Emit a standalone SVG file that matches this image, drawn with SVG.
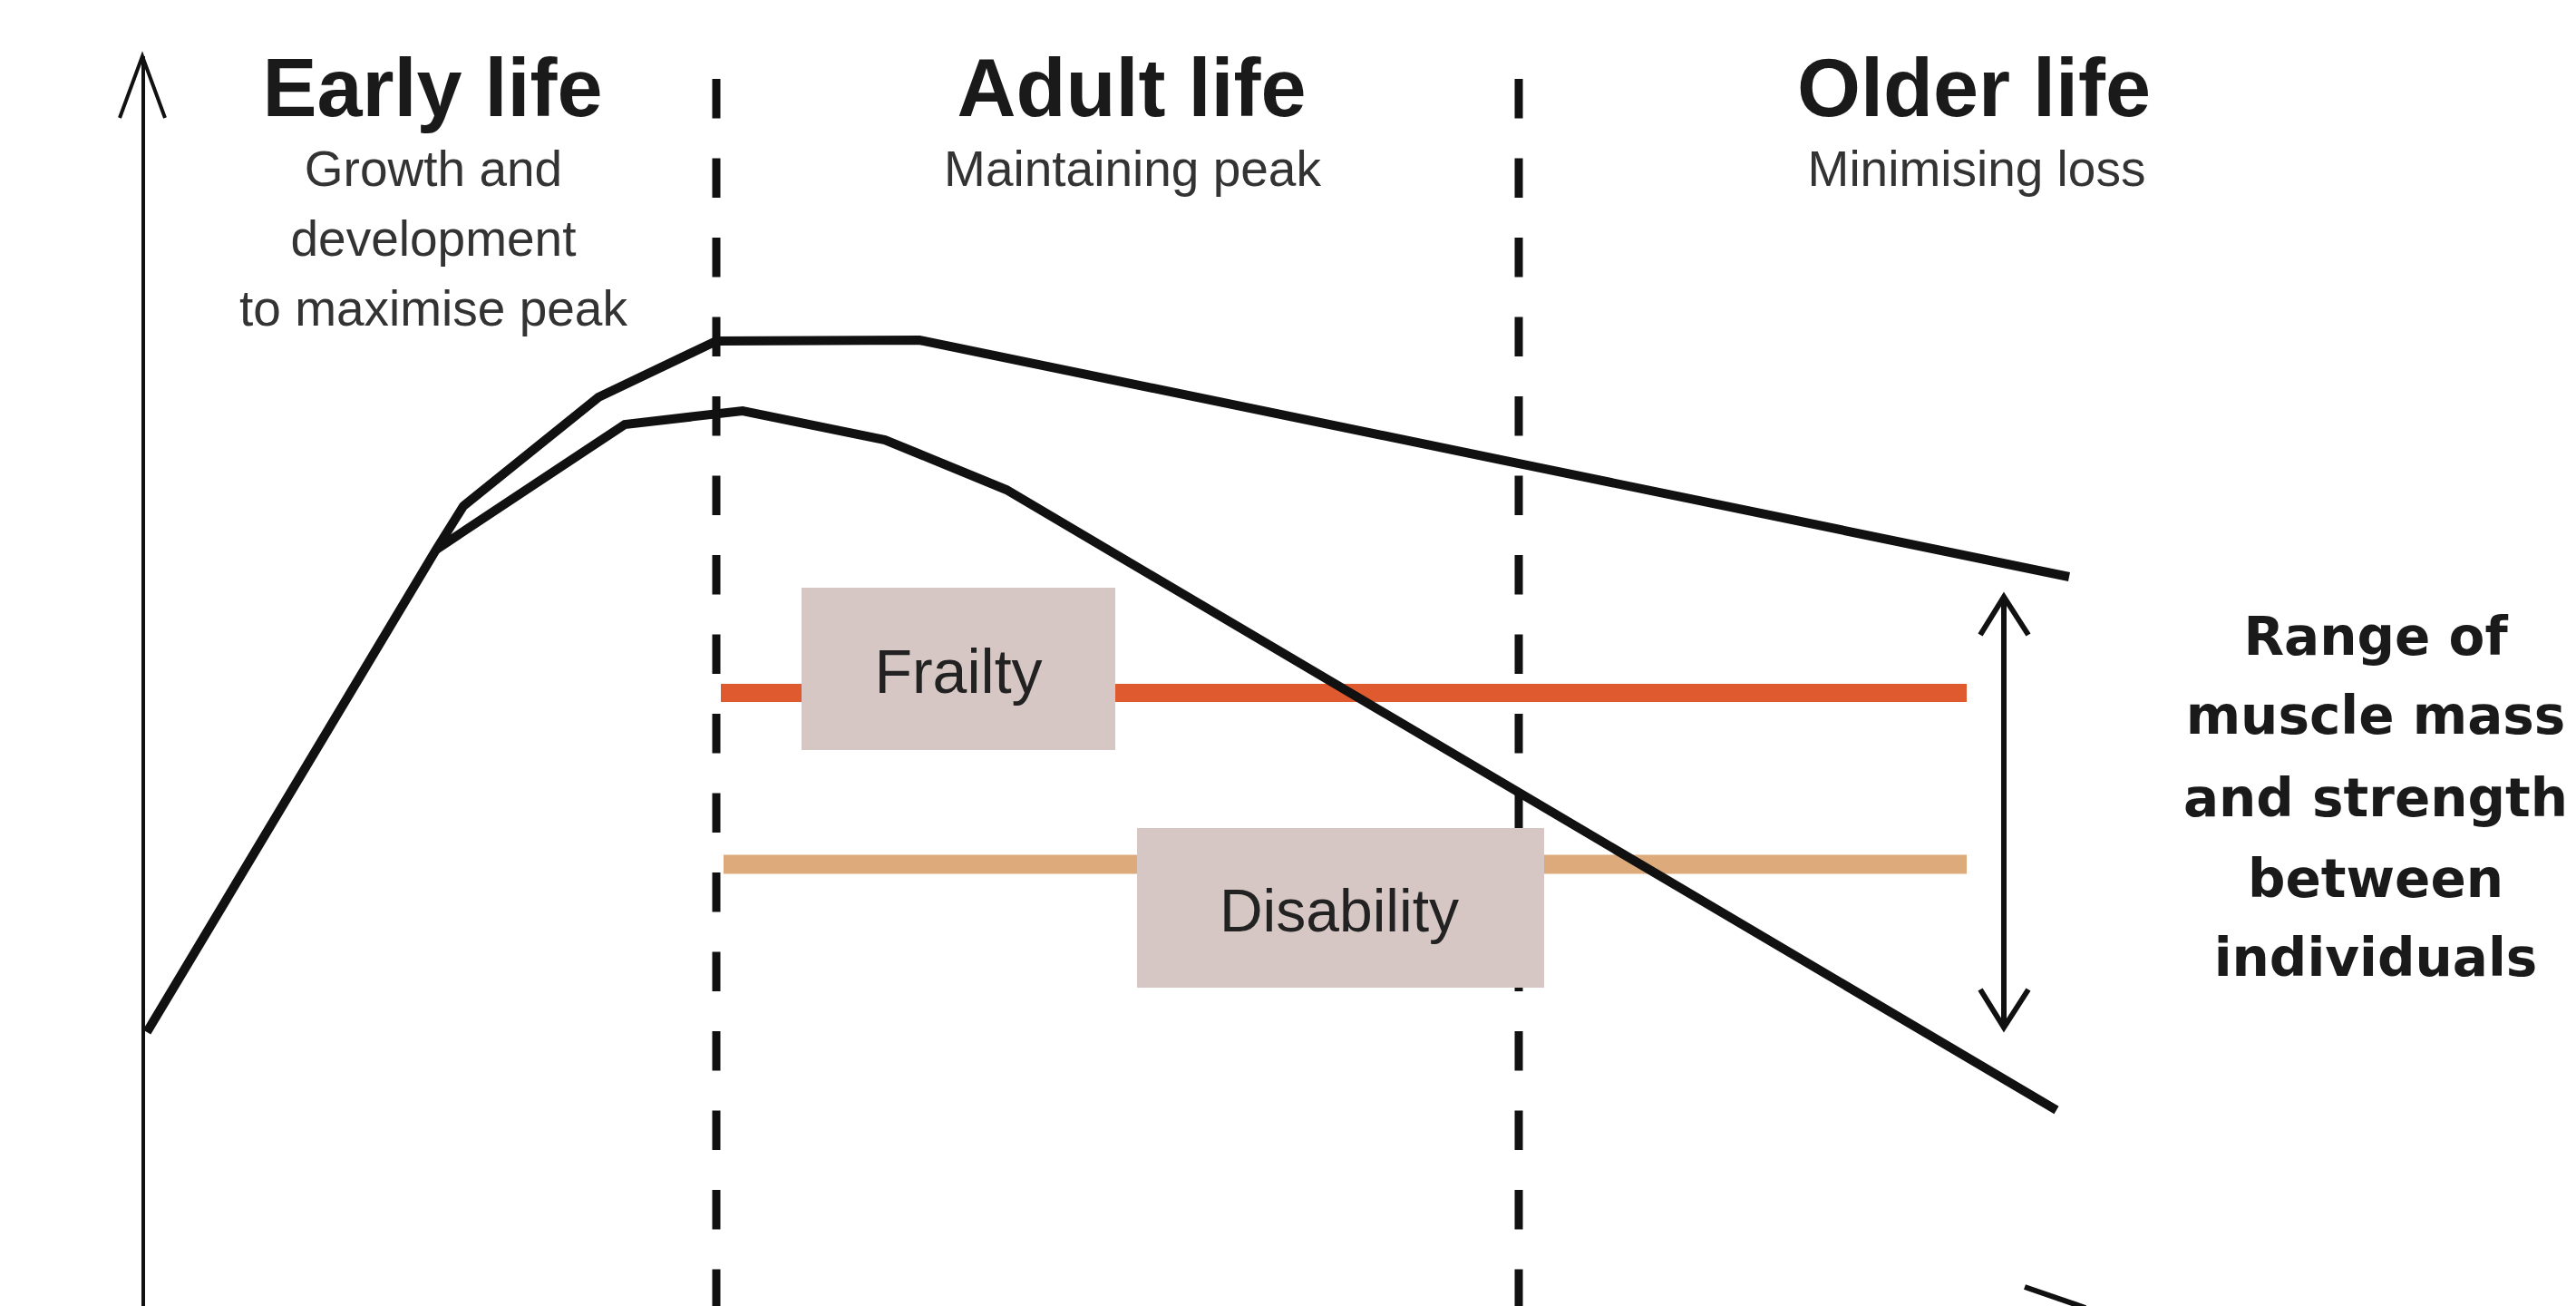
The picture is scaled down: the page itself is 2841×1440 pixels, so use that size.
<svg xmlns="http://www.w3.org/2000/svg" width="2841" height="1440" viewBox="0 0 2841 1440">
<style>
.title{font-family:"Liberation Sans",Arial,sans-serif;font-weight:bold;font-size:90px;fill:#1a1a1a;text-anchor:middle}
.sub{font-family:"Liberation Sans",Arial,sans-serif;font-size:55px;fill:#333;text-anchor:middle}
.lbl{font-family:"Liberation Sans",Arial,sans-serif;font-size:68px;fill:#222;text-anchor:middle}
.range{font-family:"DejaVu Sans",sans-serif;font-weight:bold;font-size:58px;fill:#1a1a1a;text-anchor:middle}
.dash{stroke:#111;stroke-width:9;stroke-dasharray:43.5 44;fill:none}
.curve{stroke:#111;stroke-width:10;fill:none;stroke-linejoin:miter}
.box{fill:#D6C7C4}
</style>
<rect width="2841" height="1440" fill="#fff"/>
<g id="axis">
<line x1="158" y1="62" x2="158" y2="1440" stroke="#111" stroke-width="4"/>
<polyline points="132,130 157,62 182,130" fill="none" stroke="#111" stroke-width="4"/>
</g>
<g id="dividers">
<line class="dash" x1="790" y1="87" x2="790" y2="1440"/>
<line class="dash" x1="1675" y1="87" x2="1675" y2="1440"/>
</g>
<g id="early-life">
<text class="title" x="477" y="128">Early life</text>
<text class="sub" x="478" y="205">Growth and</text>
<text class="sub" x="478" y="282">development</text>
<text class="sub" x="478" y="359">to maximise peak</text>
</g>
<g id="adult-life">
<text class="title" x="1248" y="128">Adult life</text>
<text class="sub" x="1249" y="205">Maintaining peak</text>
</g>
<g id="older-life">
<text class="title" x="2177" y="128">Older life</text>
<text class="sub" x="2180" y="205">Minimising loss</text>
</g>
<g id="thresholds">
<line x1="795" y1="764" x2="2169" y2="764" stroke="#E05A2F" stroke-width="20"/>
<line x1="798" y1="953" x2="2169" y2="953" stroke="#DDAA7C" stroke-width="21"/>
</g>
<g id="frailty">
<rect class="box" x="884" y="648" width="346" height="179"/>
<text class="lbl" x="1057" y="764">Frailty</text>
</g>
<g id="disability">
<rect class="box" x="1254" y="913" width="449" height="176"/>
<text class="lbl" x="1477" y="1027" style="font-size:66px">Disability</text>
</g>
<g id="connectors">
<polyline class="curve" points="162,1138 481,606 511,558 660,438 790,376 1014,375 2282,636"/>
<polyline class="curve" points="481,606 689,468 819,453 976,485 1110,540 2268,1224"/>
<line x1="2233" y1="1419" x2="2300" y2="1442" stroke="#111" stroke-width="6"/>
<line x1="2210" y1="660" x2="2210" y2="1130" stroke="#111" stroke-width="6"/>
<polyline points="2184,700 2210,658 2237,700" fill="none" stroke="#111" stroke-width="6"/>
<polyline points="2184,1091 2210,1133 2237,1091" fill="none" stroke="#111" stroke-width="6"/>
</g>
<g id="range-label">
<text class="range" x="2620" y="722">Range of</text>
<text class="range" x="2620" y="809">muscle mass</text>
<text class="range" x="2620" y="900">and strength</text>
<text class="range" x="2620" y="989">between</text>
<text class="range" x="2620" y="1076">individuals</text>
</g>
</svg>
